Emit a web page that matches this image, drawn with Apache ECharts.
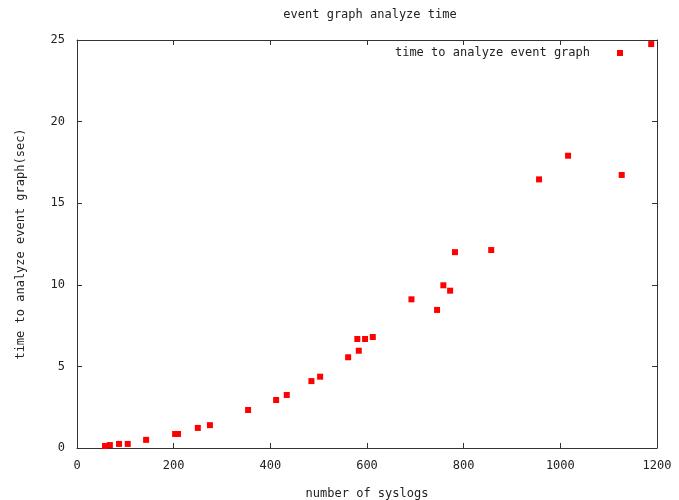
<!DOCTYPE html>
<html><head><meta charset="utf-8">
<script src="https://cdn.jsdelivr.net/npm/echarts@6/dist/echarts.min.js"></script>
<style>html,body{margin:0;padding:0;background:#fff}#c{width:679px;height:500px}</style>
</head><body><div id="c"></div>
<script>
const syslogs = [58, 68, 87, 105, 143, 203, 209, 250, 275, 354, 412, 434, 485, 503, 561, 583, 580, 596, 612, 692, 745, 758, 772, 782, 857, 956, 1016, 1127, 1188];
const seconds = [0.12, 0.18, 0.25, 0.25, 0.5, 0.86, 0.86, 1.23, 1.4, 2.33, 2.94, 3.25, 4.1, 4.37, 5.56, 5.96, 6.68, 6.68, 6.8, 9.11, 8.46, 9.97, 9.64, 12.0, 12.13, 16.46, 17.91, 16.73, 24.75];
const xTicks = [0, 200, 400, 600, 800, 1000, 1200];
const yTicks = [0, 5, 10, 15, 20, 25];
const seriesName = 'time to analyze event graph';

const font = 'DejaVu Sans Mono';
const axisCol = '#333';
const chart = echarts.init(document.getElementById('c'));
const baseAxis = {
  axisLine: {show: true, onZero: false, lineStyle: {color: axisCol, width: 1}},
  axisTick: {show: true, inside: true, length: 5, lineStyle: {color: axisCol}},
  splitLine: {show: false}
};
chart.setOption({
  animation: false,
  backgroundColor: '#fff',
  title: {text: 'event graph analyze time', left: 365, textAlign: 'center', top: 4,
    textStyle: {fontFamily: font, fontSize: 12, fontWeight: 'normal', color: '#222'}},
  legend: {right: 51, top: 42, align: 'right', itemWidth: 6, itemHeight: 6, itemGap: 0,
    data: [{name: seriesName, icon: 'rect'}],
    textStyle: {fontFamily: font, fontSize: 12, color: '#222', padding: [0, 22, 0, 0]}},
  grid: {left: 77, right: 22, top: 40, bottom: 52, containLabel: false, outerBoundsMode: 'none'},
  xAxis: [
    Object.assign({}, baseAxis, {type: 'value', min: xTicks[0], max: xTicks[xTicks.length-1], interval: 200,
      name: 'number of syslogs', nameLocation: 'middle', nameGap: 40,
      nameTextStyle: {fontFamily: font, fontSize: 12, color: '#222'},
      axisLabel: {fontFamily: font, fontSize: 12, color: '#222', margin: 12, formatter: v => String(v)}}),
    Object.assign({}, baseAxis, {type: 'value', position: 'top', min: xTicks[0], max: xTicks[xTicks.length-1], interval: 200,
      axisLabel: {show: false}})
  ],
  yAxis: [
    Object.assign({}, baseAxis, {type: 'value', min: yTicks[0], max: yTicks[yTicks.length-1], interval: 5,
      name: 'time to analyze event graph(sec)', nameLocation: 'middle', nameGap: 50, nameRotate: 90,
      nameTextStyle: {fontFamily: font, fontSize: 12, color: '#222'},
      axisLabel: {fontFamily: font, fontSize: 12, color: '#222', margin: 12, formatter: v => String(v)}}),
    Object.assign({}, baseAxis, {type: 'value', position: 'right', min: yTicks[0], max: yTicks[yTicks.length-1], interval: 5,
      axisLabel: {show: false}})
  ],
  series: [{
    name: seriesName, type: 'scatter', symbol: 'rect', symbolSize: 6,
    itemStyle: {color: '#ff0000', opacity: 1},
    data: syslogs.map((x, i) => [x, seconds[i]])
  }]
});
</script></body></html>
